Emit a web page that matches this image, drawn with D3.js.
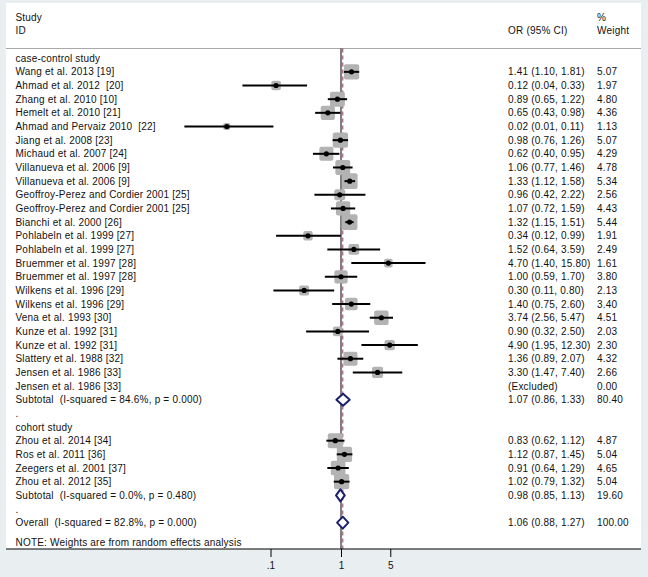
<!DOCTYPE html>
<html>
<head>
<meta charset="utf-8">
<script src="https://cdn.jsdelivr.net/npm/d3@7"></script>
<style>
  html, body { margin: 0; padding: 0; background: #e9eff1; }
  svg { display: block; }
  text { font-family: "Liberation Sans", Arial, sans-serif; font-size: 10px; fill: #111; white-space: pre; letter-spacing: 0.2px; }
</style>
</head>
<body>
<svg id="chart" width="648" height="577"></svg>
<script>
// ---- data ----
const caseStudies = ["Wang et al. 2013 [19]", "Ahmad et al. 2012  [20]", "Zhang et al. 2010 [10]", "Hemelt et al. 2010 [21]",
  "Ahmad and Pervaiz 2010  [22]", "Jiang et al. 2008 [23]", "Michaud et al. 2007 [24]", "Villanueva et al. 2006 [9]",
  "Villanueva et al. 2006 [9]", "Geoffroy-Perez and Cordier 2001 [25]", "Geoffroy-Perez and Cordier 2001 [25]",
  "Bianchi et al. 2000 [26]", "Pohlabeln et al. 1999 [27]", "Pohlabeln et al. 1999 [27]", "Bruemmer et al. 1997 [28]",
  "Bruemmer et al. 1997 [28]", "Wilkens et al. 1996 [29]", "Wilkens et al. 1996 [29]", "Vena et al. 1993 [30]",
  "Kunze et al. 1992 [31]", "Kunze et al. 1992 [31]", "Slattery et al. 1988 [32]", "Jensen et al. 1986 [33]",
  "Jensen et al. 1986 [33]"];
const caseOR = [1.41, 0.12, 0.89, 0.65, 0.024, 0.98, 0.62, 1.06, 1.33, 0.96, 1.07, 1.32, 0.34, 1.52, 4.70, 1.00, 0.30, 1.40, 3.74, 0.90, 4.90, 1.36, 3.30, null];
const caseLo = [1.10, 0.04, 0.65, 0.43, 0.006, 0.76, 0.40, 0.77, 1.12, 0.42, 0.72, 1.15, 0.12, 0.64, 1.40, 0.59, 0.11, 0.75, 2.56, 0.32, 1.95, 0.89, 1.47, null];
const caseHi = [1.81, 0.33, 1.22, 0.98, 0.11, 1.26, 0.95, 1.46, 1.58, 2.22, 1.59, 1.51, 0.99, 3.59, 15.80, 1.70, 0.80, 2.60, 5.47, 2.50, 12.30, 2.07, 7.40, null];
const caseW  = [5.07, 1.97, 4.80, 4.36, 1.13, 5.07, 4.29, 4.78, 5.34, 2.56, 4.43, 5.44, 1.91, 2.49, 1.61, 3.80, 2.13, 3.40, 4.51, 2.03, 2.30, 4.32, 2.66, 0.00];

const cohortStudies = ["Zhou et al. 2014 [34]", "Ros et al. 2011 [36]", "Zeegers et al. 2001 [37]", "Zhou et al. 2012 [35]"];
const cohortOR = [0.83, 1.12, 0.91, 1.02];
const cohortLo = [0.62, 0.87, 0.64, 0.79];
const cohortHi = [1.12, 1.45, 1.29, 1.32];
const cohortW  = [4.87, 5.04, 4.65, 5.04];

const groupNames = ["case-control study", "cohort study"];
const subLabels = ["Subtotal  (I-squared = 84.6%, p = 0.000)", "Subtotal  (I-squared = 0.0%, p = 0.480)"];
const subOR = [1.07, 0.98];
const subLo = [0.86, 0.85];
const subHi = [1.33, 1.13];
const subW  = [80.40, 19.60];

const overallLabel = "Overall  (I-squared = 82.8%, p = 0.000)";
const overallOR = 1.06, overallLo = 0.88, overallHi = 1.27, overallW = 100.00;

const noteText = "NOTE: Weights are from random effects analysis";
const tickValues = [0.1, 1, 5];
const tickLabels = [".1", "1", "5"];

// ---- build rows ----
const rows = [];
rows.push({type: "group", label: groupNames[0]});
caseStudies.forEach((s, i) => rows.push({type: "study", label: s, or: caseOR[i], lo: caseLo[i], hi: caseHi[i], w: caseW[i]}));
rows.push({type: "sub", label: subLabels[0], or: subOR[0], lo: subLo[0], hi: subHi[0], w: subW[0]});
rows.push({type: "blank", label: "."});
rows.push({type: "group", label: groupNames[1]});
cohortStudies.forEach((s, i) => rows.push({type: "study", label: s, or: cohortOR[i], lo: cohortLo[i], hi: cohortHi[i], w: cohortW[i]}));
rows.push({type: "sub", label: subLabels[1], or: subOR[1], lo: subLo[1], hi: subHi[1], w: subW[1]});
rows.push({type: "blank", label: "."});
rows.push({type: "overall", label: overallLabel, or: overallOR, lo: overallLo, hi: overallHi, w: overallW});

// ---- layout ----
const svg = d3.select("#chart");
const panel = {x0: 6, x1: 641, y0: 3, y1: 549};
const headerLineY = 48.5;
const rowStep = 13.66;
const firstRowY = 58.2;

const x = d3.scaleLog().domain([0.01, 10]).range([341 - 2 * 70.5, 341 + 70.5]);
const y = d3.scaleLinear().domain([0, 1]).range([firstRowY, firstRowY + rowStep]);

svg.append("rect").attr("x", panel.x0).attr("y", panel.y0)
  .attr("width", panel.x1 - panel.x0).attr("height", panel.y1 - panel.y0).attr("fill", "#ffffff");

// header
const g = svg.append("g");
const textCol = 15.5, orCol = 508, wCol = 597;
g.append("text").attr("x", textCol).attr("y", 21.2).text("Study");
g.append("text").attr("x", textCol).attr("y", 34.2).text("ID");
g.append("text").attr("x", orCol).attr("y", 34.2).text("OR (95% CI)");
g.append("text").attr("x", wCol).attr("y", 21.2).text("%");
g.append("text").attr("x", wCol).attr("y", 34.2).text("Weight");

svg.append("line").attr("x1", panel.x0).attr("x2", panel.x1)
  .attr("y1", headerLineY).attr("y2", headerLineY)
  .attr("stroke", "#a8a8a8").attr("stroke-width", 1);

// reference lines
svg.append("line").attr("x1", x(1)).attr("x2", x(1))
  .attr("y1", headerLineY).attr("y2", panel.y1)
  .attr("stroke", "#000").attr("stroke-width", 1);
svg.append("line").attr("x1", x(overallOR)).attr("x2", x(overallOR))
  .attr("y1", headerLineY).attr("y2", panel.y1)
  .attr("stroke", "#8a4058").attr("stroke-width", 1).attr("stroke-dasharray", "4,3");

// rows
const rowG = svg.selectAll("g.row").data(rows).join("g").attr("class", "row")
  .attr("transform", (d, i) => `translate(0,${y(i)})`);

rowG.append("text").attr("x", textCol).attr("y", 3.6).text(d => d.label);

const fmt = v => v.toFixed(2);
const numeric = rowG.filter(d => d.type === "study" || d.type === "sub" || d.type === "overall");
numeric.append("text").attr("x", orCol).attr("y", 3.6)
  .text(d => d.or == null ? "(Excluded)" : `${fmt(d.or)} (${fmt(d.lo)}, ${fmt(d.hi)})`);
numeric.append("text").attr("x", wCol).attr("y", 3.6).text(d => fmt(d.w));

// study marks
const studies = rowG.filter(d => d.type === "study" && d.or != null);
const boxK = 6.8;
studies.append("rect")
  .attr("x", d => x(d.or) - boxK * Math.sqrt(d.w) / 2)
  .attr("y", d => -boxK * Math.sqrt(d.w) / 2)
  .attr("width", d => boxK * Math.sqrt(d.w))
  .attr("height", d => boxK * Math.sqrt(d.w))
  .attr("rx", 2)
  .attr("fill", "#b3b3b3");
studies.append("line")
  .attr("x1", d => x(d.lo)).attr("x2", d => x(d.hi))
  .attr("y1", 0).attr("y2", 0)
  .attr("stroke", "#000").attr("stroke-width", 2);
studies.append("circle").attr("cx", d => x(d.or)).attr("cy", 0).attr("r", 2.6).attr("fill", "#000");

// diamonds
rowG.filter(d => d.type === "sub" || d.type === "overall")
  .append("path")
  .attr("d", d => `M${x(d.lo)},0 L${x(d.or)},-6 L${x(d.hi)},0 L${x(d.or)},6 Z`)
  .attr("fill", "#fff").attr("stroke", "#1c1f6e").attr("stroke-width", 2).attr("stroke-linejoin", "round");

// note
svg.append("text").attr("x", textCol).attr("y", 545.8).text(noteText);

// axis
svg.append("line").attr("x1", panel.x0).attr("x2", panel.x1)
  .attr("y1", panel.y1).attr("y2", panel.y1).attr("stroke", "#000").attr("stroke-width", 1);
const axis = d3.axisBottom(x).tickValues(tickValues).tickSize(8).tickPadding(5)
  .tickFormat((d, i) => tickLabels[i]);
const ax = svg.append("g").attr("transform", `translate(0,${panel.y1})`).call(axis);
ax.select(".domain").remove();
ax.selectAll(".tick line").attr("stroke", "#000");
ax.selectAll(".tick text").attr("fill", "#111")
  .style("font-family", '"Liberation Sans", Arial, sans-serif').style("font-size", "10px");
</script>
</body>
</html>
